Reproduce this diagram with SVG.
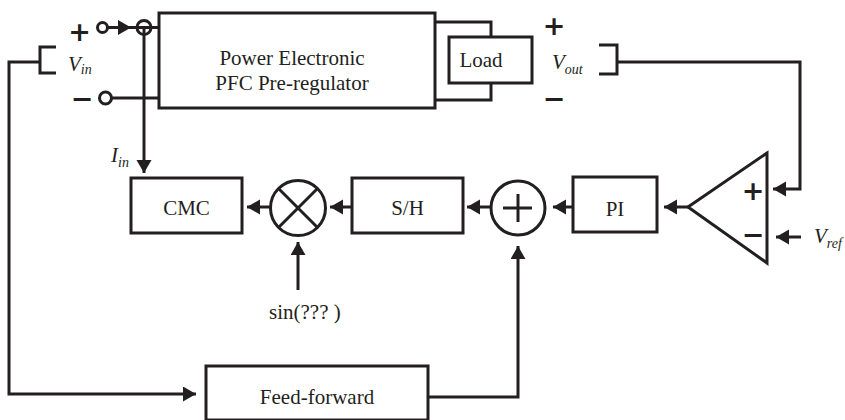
<svg xmlns="http://www.w3.org/2000/svg" width="845" height="420" viewBox="0 0 845 420">
<style>
.s{fill:none;stroke:#231f20;stroke-width:3}
.b{fill:#fff;stroke:#231f20;stroke-width:3}
.t{font-family:"Liberation Serif",serif;font-size:21px;fill:#231f20;text-anchor:middle}
.it{font-family:"Liberation Serif",serif;font-size:21px;font-style:italic;fill:#231f20}
.sg{font-family:"DejaVu Sans",sans-serif;font-size:27px;font-weight:bold;fill:#231f20;text-anchor:middle}
</style>
<defs>
<marker id="ah" markerUnits="userSpaceOnUse" markerWidth="14" markerHeight="16" refX="13" refY="7.5" orient="auto">
<path d="M0,0 L13,7.5 L0,15 z" fill="#231f20"/>
</marker>
</defs>
<rect width="845" height="420" fill="#fff"/>
<g id="connectors" class="s">
<path d="M108,27.5 H131" marker-end="url(#ah)"/>
<path d="M131,27.5 H159"/>
<path d="M112,98 H159"/>
<path d="M144,27.5 V173" marker-end="url(#ah)"/>
<path d="M435,22 H491 V37"/>
<path d="M491,83 V100 H435"/>
<path d="M56,47 H40 V73 H56"/>
<path d="M40,62 H9 V394 H196" marker-end="url(#ah)"/>
<path d="M599,45 H617 V74 H599"/>
<path d="M617,62 H800 V189 H773" marker-end="url(#ah)"/>
<path d="M801,237 H776" marker-end="url(#ah)"/>
<path d="M688,207 H664" marker-end="url(#ah)"/>
<path d="M573,207 H553" marker-end="url(#ah)"/>
<path d="M491,207 H467" marker-end="url(#ah)"/>
<path d="M352,207 H330" marker-end="url(#ah)"/>
<path d="M270,207 H247" marker-end="url(#ah)"/>
<path d="M298,290 V242" marker-end="url(#ah)"/>
<path d="M428,397 H518 V246" marker-end="url(#ah)"/>
</g>
<g id="input">
<circle class="b" cx="102.5" cy="27.5" r="5"/>
<circle class="s" cx="144" cy="27.5" r="7"/>
<circle class="b" cx="105.5" cy="98" r="6"/>
<text class="sg" x="79.5" y="40.5">+</text>
<text class="sg" x="82" y="108">−</text>
<text class="it" x="68" y="71">V<tspan font-size="14" dy="3">in</tspan></text>
<text class="it" x="111" y="162">I<tspan font-size="14" dy="5">in</tspan></text>
</g>
<g id="pfc">
<rect class="b" x="159" y="13" width="276" height="95"/>
<text class="t" x="292" y="65">Power Electronic</text>
<text class="t" x="292" y="90">PFC Pre-regulator</text>
</g>
<g id="load">
<rect class="b" x="449" y="37" width="83" height="46"/>
<text class="t" x="481" y="67">Load</text>
</g>
<g id="vout">
<text class="sg" x="554" y="34.5">+</text>
<text class="sg" x="554" y="108">−</text>
<text class="it" x="552" y="69">V<tspan font-size="14" dy="5">out</tspan></text>
</g>
<g id="opamp">
<path class="b" d="M688,207 L767,153 L767,263 Z"/>
<text class="sg" x="753" y="200">+</text>
<text class="sg" x="753" y="244">−</text>
<text class="it" x="814" y="243">V<tspan font-size="14" dy="5">ref</tspan></text>
</g>
<g id="pi">
<rect class="b" x="573" y="177" width="84" height="55"/>
<text class="t" x="615" y="216">PI</text>
</g>
<g id="sum">
<circle class="b" cx="518" cy="208" r="27"/>
<path class="s" d="M503,208 H532 M518,194 V222"/>
</g>
<g id="sh">
<rect class="b" x="352" y="178" width="111" height="55"/>
<text class="t" x="407.5" y="215">S/H</text>
</g>
<g id="mult">
<circle class="b" cx="298" cy="208" r="27.5"/>
<path class="s" d="M278.5,188.5 L317.5,227.5 M317.5,188.5 L278.5,227.5"/>
<text class="t" x="269" y="319" style="text-anchor:start">sin(??? )</text>
</g>
<g id="cmc">
<rect class="b" x="131" y="178" width="111" height="55"/>
<text class="t" x="186.5" y="215">CMC</text>
</g>
<g id="feedforward">
<rect class="b" x="206" y="366" width="222" height="54"/>
<text class="t" x="317" y="404">Feed-forward</text>
</g>
</svg>
